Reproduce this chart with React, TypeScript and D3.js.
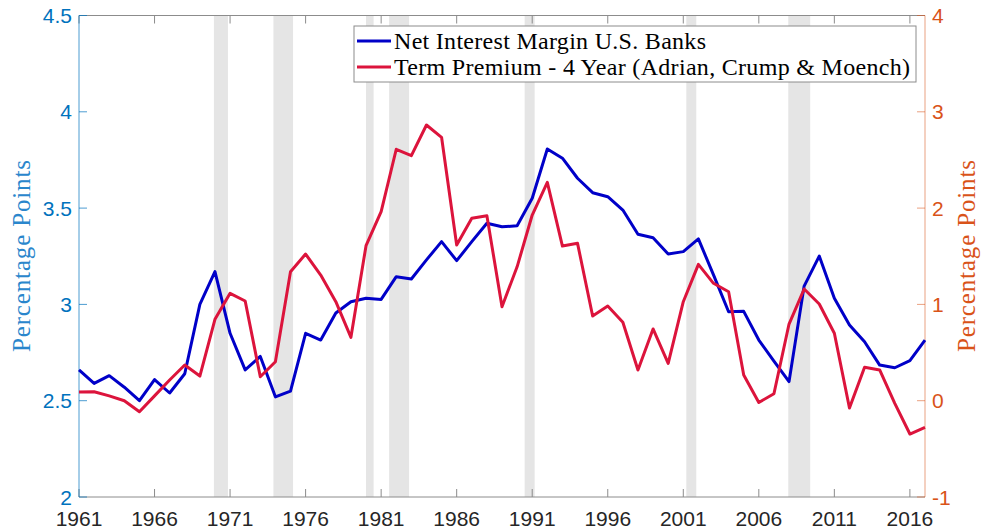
import React from "react";
import * as d3 from "d3";

const years = [
  1961, 1962, 1963, 1964, 1965, 1966, 1967, 1968, 1969, 1970,
  1971, 1972, 1973, 1974, 1975, 1976, 1977, 1978, 1979, 1980,
  1981, 1982, 1983, 1984, 1985, 1986, 1987, 1988, 1989, 1990,
  1991, 1992, 1993, 1994, 1995, 1996, 1997, 1998, 1999, 2000,
  2001, 2002, 2003, 2004, 2005, 2006, 2007, 2008, 2009, 2010,
  2011, 2012, 2013, 2014, 2015, 2016, 2017,
];

const netInterestMargin = [
  2.66, 2.59, 2.63, 2.57, 2.5, 2.61, 2.54, 2.64, 3.0, 3.17,
  2.85, 2.66, 2.73, 2.52, 2.55, 2.85, 2.815, 2.955, 3.014, 3.032,
  3.026, 3.144, 3.132, 3.231, 3.326, 3.227, 3.326, 3.421, 3.403, 3.408,
  3.551, 3.807, 3.759, 3.655, 3.58, 3.559, 3.49, 3.364, 3.346, 3.262,
  3.274, 3.34, 3.153, 2.962, 2.964, 2.815, 2.706, 2.599, 3.095, 3.251,
  3.032, 2.893, 2.806, 2.685, 2.671, 2.708, 2.815,
];

const termPremium = [
  0.09, 0.093, 0.05, 0.0, -0.114, 0.05, 0.215, 0.371, 0.256, 0.845,
  1.115, 1.035, 0.249, 0.405, 1.34, 1.523, 1.305, 1.028, 0.658, 1.61,
  1.963, 2.611, 2.544, 2.863, 2.735, 1.617, 1.894, 1.921, 0.976, 1.39,
  1.928, 2.268, 1.606, 1.634, 0.88, 0.983, 0.814, 0.319, 0.745, 0.388,
  1.028, 1.416, 1.219, 1.132, 0.267, -0.018, 0.072, 0.796, 1.16, 1.004,
  0.7, -0.076, 0.347, 0.319, -0.027, -0.346, -0.277,
];

const recessionStart = [1969.93, 1973.87, 1980.0, 1981.53, 1990.5, 2001.2, 2007.95];
const recessionEnd = [1970.86, 1975.17, 1980.5, 1982.85, 1991.16, 2001.86, 2009.4];

const xTicks = [1961, 1966, 1971, 1976, 1981, 1986, 1991, 1996, 2001, 2006, 2011, 2016];
const leftTicks = [2, 2.5, 3, 3.5, 4, 4.5];
const rightTicks = [-1, 0, 1, 2, 3, 4];

const seriesNames = [
  "Net Interest Margin U.S. Banks",
  "Term Premium - 4 Year (Adrian, Crump & Moench)",
];
const legendTextWidths = [312, 516];

const W = 981;
const H = 531;
const M = { left: 79, right: 925, top: 15.5, bottom: 497 };

const BLUE_AX = "#0072BD";
const ORANGE_AX = "#D95319";
const LINE_BLUE = "#0000C8";
const LINE_RED = "#DC143C";

export default function App() {
  const x = d3.scaleLinear().domain([1961, 2017]).range([M.left, M.right]);
  const yL = d3.scaleLinear().domain([2, 4.5]).range([M.bottom, M.top]);
  const yR = d3.scaleLinear().domain([-1, 4]).range([M.bottom, M.top]);

  const lineL = d3
    .line<number>()
    .x((_, i) => x(years[i]))
    .y((d) => yL(d));
  const lineR = d3
    .line<number>()
    .x((_, i) => x(years[i]))
    .y((d) => yR(d));

  const tickFont = "'Liberation Sans', Arial, sans-serif";
  const serif = "'Liberation Serif', 'Times New Roman', serif";

  const legX = 354;
  const legY = 26;
  const legW = 562;
  const legH = 56;

  return (
    <svg
      width={W}
      height={H}
      style={{ position: "absolute", left: 0, top: 0, background: "#fff" }}
    >
      <rect x={0} y={0} width={W} height={H} fill="#fff" />
      {recessionStart.map((s, i) => (
        <rect
          key={i}
          x={x(s)}
          y={M.top}
          width={x(recessionEnd[i]) - x(s)}
          height={M.bottom - M.top}
          fill="#e5e5e5"
        />
      ))}

      <line x1={M.left} x2={M.right} y1={M.top} y2={M.top} stroke="#8c8c8c" strokeWidth={1} />
      <line x1={M.left} x2={M.right} y1={M.bottom} y2={M.bottom} stroke="#8c8c8c" strokeWidth={1} />

      {xTicks.map((t) => (
        <g key={t}>
          <line x1={x(t)} x2={x(t)} y1={M.bottom} y2={M.bottom - 8} stroke="#8c8c8c" />
          <line x1={x(t)} x2={x(t)} y1={M.top} y2={M.top + 8} stroke="#8c8c8c" />
          <text
            x={x(t)}
            y={M.bottom + 29}
            textAnchor="middle"
            fontFamily={tickFont}
            fontSize={21}
            fill="#262626"
          >
            {t}
          </text>
        </g>
      ))}

      <line x1={M.left} x2={M.left} y1={M.top} y2={M.bottom} stroke={BLUE_AX} strokeOpacity={0.7} />
      {leftTicks.map((t) => (
        <g key={t}>
          <line x1={M.left} x2={M.left + 8} y1={yL(t)} y2={yL(t)} stroke={BLUE_AX} strokeOpacity={0.7} />
          <text
            x={M.left - 7}
            y={yL(t)}
            dy="0.36em"
            textAnchor="end"
            fontFamily={tickFont}
            fontSize={21}
            fill={BLUE_AX}
          >
            {t}
          </text>
        </g>
      ))}

      <line x1={M.right} x2={M.right} y1={M.top} y2={M.bottom} stroke={ORANGE_AX} strokeOpacity={0.55} />
      {rightTicks.map((t) => (
        <g key={t}>
          <line x1={M.right} x2={M.right - 8} y1={yR(t)} y2={yR(t)} stroke={ORANGE_AX} strokeOpacity={0.55} />
          <text
            x={M.right + 7}
            y={yR(t)}
            dy="0.36em"
            textAnchor="start"
            fontFamily={tickFont}
            fontSize={21}
            fill={ORANGE_AX}
          >
            {t}
          </text>
        </g>
      ))}

      <text
        transform={`translate(21,256) rotate(-90)`}
        textAnchor="middle"
        dy="0.35em"
        fontFamily={serif}
        fontSize={25}
        textLength={192}
        lengthAdjust="spacing"
        fill="#2a86cc"
      >
        Percentage Points
      </text>
      <text
        transform={`translate(966,256) rotate(-90)`}
        textAnchor="middle"
        dy="0.35em"
        fontFamily={serif}
        fontSize={25}
        textLength={192}
        lengthAdjust="spacing"
        fill={ORANGE_AX}
      >
        Percentage Points
      </text>

      <path d={lineL(netInterestMargin) || ""} fill="none" stroke={LINE_BLUE} strokeWidth={3} strokeLinejoin="round" />
      <path d={lineR(termPremium) || ""} fill="none" stroke={LINE_RED} strokeWidth={3} strokeLinejoin="round" />

      <rect x={legX} y={legY} width={legW} height={legH} fill="#fff" stroke="#8c8c8c" strokeWidth={1} />
      {seriesNames.map((name, i) => (
        <g key={name}>
          <line
            x1={legX + 3}
            x2={legX + 37}
            y1={legY + 15 + i * 26}
            y2={legY + 15 + i * 26}
            stroke={i === 0 ? LINE_BLUE : LINE_RED}
            strokeWidth={3}
          />
          <text
            x={legX + 40}
            y={legY + 15 + i * 26}
            dy="0.33em"
            fontFamily={serif}
            fontSize={24}
            textLength={legendTextWidths[i]}
            lengthAdjust="spacing"
            fill="#000"
          >
            {name}
          </text>
        </g>
      ))}
    </svg>
  );
}
